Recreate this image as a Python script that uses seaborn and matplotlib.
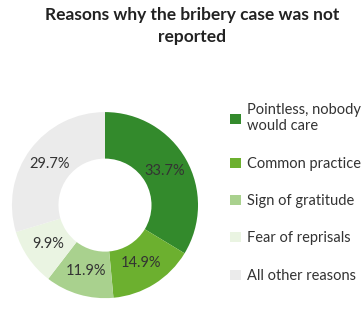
import matplotlib
matplotlib.use("Agg")
import matplotlib.pyplot as plt
from matplotlib.patches import Patch
import seaborn as sns

# ---------------- data ----------------
reasons = ["Pointless, nobody\nwould care", "Common practice", "Sign of gratitude",
           "Fear of reprisals", "All other reasons"]
shares = [33.7, 14.9, 11.9, 9.9, 29.7]
colors = ["#338a2c", "#6cb02f", "#a9d18e", "#eaf4e2", "#ebebeb"]

# ---------------- style ----------------
sns.set_theme(style="white")
plt.rcParams["font.family"] = ["Lato", "DejaVu Sans"]

fig = plt.figure(figsize=(3.62, 3.22), dpi=100)
ax = fig.add_axes([0.033, 0.074, 0.514, 0.578])

wedges, texts, autotexts = ax.pie(
    shares, colors=colors, startangle=90, counterclock=False,
    autopct=lambda p: f"{p:.1f}%", pctdistance=0.74,
    wedgeprops=dict(width=0.5, linewidth=0),
    textprops=dict(fontsize=10.5, color="#333333"))
# keep the printed values
for t, v in zip(autotexts, shares):
    t.set_text(f"{v:.1f}%")
ax.set_xlim(-1, 1)
ax.set_ylim(-1, 1)
ax.set_aspect("equal")

fig.text(0.53, 0.978, "Reasons why the bribery case was not\nreported",
         ha="center", va="top", fontsize=12.5, fontweight="bold",
         color="#222222", linespacing=1.45)

handles = [Patch(facecolor=c, edgecolor="none") for c in colors]
fig.legend(handles, reasons, loc="upper left",
           bbox_to_anchor=(0.6, 0.72), frameon=False,
           fontsize=10.5, labelspacing=1.6, handlelength=0.7,
           handleheight=0.7, handletextpad=0.45, labelcolor="#333333")

fig.savefig("out.png", dpi=100)
